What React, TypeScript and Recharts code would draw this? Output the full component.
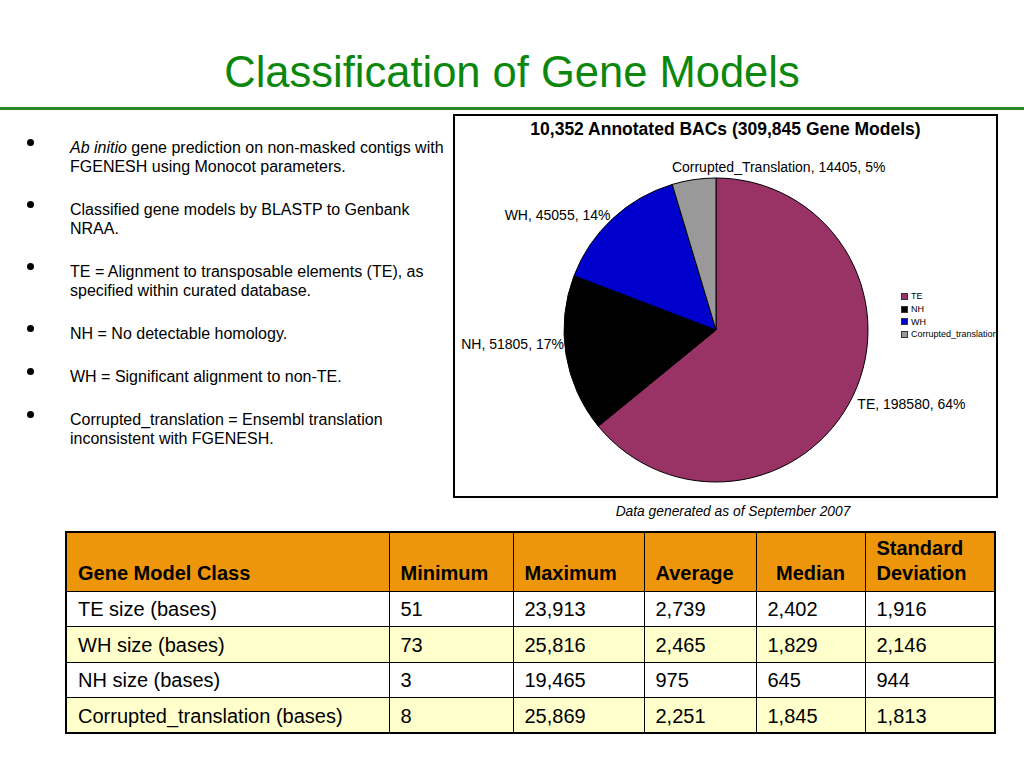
import React from 'react';
import { PieChart, Pie, Cell, Legend } from 'recharts';

// ---------- Pie data ----------
const categories = ['TE', 'NH', 'WH', 'Corrupted_translation'];
const labelNames = ['TE', 'NH', 'WH', 'Corrupted_Translation'];
const geneModelCounts = [198580, 51805, 45055, 14405];
const percentLabels = [64, 17, 14, 5];
const sliceColors = ['#993366', '#000000', '#0000CC', '#999999'];

// ---------- Bullets ----------
const bulletItems: { italic?: string; lines: string[] }[] = [
  { italic: 'Ab initio', lines: [' gene prediction on non-masked contigs with', 'FGENESH using Monocot parameters.'] },
  { lines: ['Classified gene models by BLASTP to Genbank', 'NRAA.'] },
  { lines: ['TE = Alignment to transposable elements (TE), as', 'specified within curated database.'] },
  { lines: ['NH = No detectable homology.'] },
  { lines: ['WH = Significant alignment to non-TE.'] },
  { lines: ['Corrupted_translation = Ensembl translation', 'inconsistent with FGENESH.'] },
];

// ---------- Table data ----------
const tableHeaders = ['Gene Model Class', 'Minimum', 'Maximum', 'Average', 'Median', 'Standard\nDeviation'];
const rowClasses = ['TE size (bases)', 'WH size (bases)', 'NH size (bases)', 'Corrupted_translation (bases)'];
const minimums = ['51', '73', '3', '8'];
const maximums = ['23,913', '25,816', '19,465', '25,869'];
const averages = ['2,739', '2,465', '975', '2,251'];
const medians = ['2,402', '1,829', '645', '1,845'];
const stdDevs = ['1,916', '2,146', '944', '1,813'];

const FONT = '"Liberation Sans", Arial, Helvetica, sans-serif';
const RADIAN = Math.PI / 180;

const pieData = categories.map((name, i) => ({ name, value: geneModelCounts[i], fill: sliceColors[i] }));

const renderPieLabel = (props: any) => {
  const { cx, cy, midAngle, outerRadius, index } = props;
  const cos = Math.cos(-midAngle * RADIAN);
  const sin = Math.sin(-midAngle * RADIAN);
  const px = cx + outerRadius * cos;
  const py = cy + outerRadius * sin;
  let x: number, y: number, anchor: 'start' | 'end';
  if (cos > 0.5) {
    anchor = 'start'; x = px + 4; y = py + 14;
  } else if (cos < -0.5) {
    anchor = 'end'; x = px - 2; y = py - 3.9 - 6.7 * sin;
  } else {
    anchor = 'start'; x = px - 22; y = py - 8;
  }
  return (
    <text x={x} y={y} textAnchor={anchor} fontSize={14} fill="#000" fontFamily={FONT}>
      {`${labelNames[index]}, ${geneModelCounts[index]}, ${percentLabels[index]}%`}
    </text>
  );
};

const renderLegend = (props: any) => {
  const payload = [...(props.payload || [])].sort(
    (a: any, b: any) => categories.indexOf(a.value) - categories.indexOf(b.value)
  );
  return (
    <div style={{ fontFamily: FONT, fontSize: 9, color: '#000' }}>
      {payload.map((entry: any, i: number) => {
        const k = categories.indexOf(entry.value);
        return (
          <div key={i} style={{ height: 12.7, display: 'flex', alignItems: 'center', whiteSpace: 'nowrap' }}>
            <span
              style={{
                display: 'inline-block',
                width: 5,
                height: 5,
                background: k >= 0 ? sliceColors[k] : entry.color,
                border: '0.5px solid #333',
                marginRight: 3,
              }}
            />
            <span>{entry.value}</span>
          </div>
        );
      })}
    </div>
  );
};

export default function App() {
  const colWidths = [323, 124, 131, 112, 109, 130];
  const rows = rowClasses.map((c, i) => [c, minimums[i], maximums[i], averages[i], medians[i], stdDevs[i]]);
  return (
    <div
      style={{
        position: 'absolute',
        left: 0,
        top: 0,
        width: 1024,
        height: 768,
        background: '#fff',
        overflow: 'hidden',
        fontFamily: FONT,
        color: '#000',
      }}
    >
      {/* Title */}
      <div
        style={{
          position: 'absolute',
          left: 0,
          width: 1024,
          top: 51,
          textAlign: 'center',
          fontSize: 43.5,
          lineHeight: 1,
          color: '#0B870B',
          whiteSpace: 'nowrap',
        }}
      >
        Classification of Gene Models
      </div>
      <div style={{ position: 'absolute', left: 0, top: 107, width: 1024, height: 3, background: '#2A8A22' }} />

      {/* Bullets */}
      <div style={{ position: 'absolute', left: 0, top: 138, width: 450 }}>
        {bulletItems.map((b, i) => (
          <div key={i} style={{ position: 'relative', marginBottom: 24 }}>
            <div
              style={{
                position: 'absolute',
                left: 27,
                top: 1,
                width: 7,
                height: 7,
                borderRadius: '50%',
                background: '#000',
              }}
            />
            <div style={{ marginLeft: 70, fontSize: 16, lineHeight: '19px', whiteSpace: 'nowrap' }}>
              {b.lines.map((ln, j) => (
                <div key={j}>
                  {j === 0 && b.italic ? <i>{b.italic}</i> : null}
                  {ln}
                </div>
              ))}
            </div>
          </div>
        ))}
      </div>

      {/* Chart box */}
      <div
        style={{
          position: 'absolute',
          left: 453,
          top: 114,
          width: 545,
          height: 384,
          border: '2px solid #000',
          boxSizing: 'border-box',
        }}
      />
      <div
        style={{
          position: 'absolute',
          left: 453,
          width: 545,
          top: 121,
          textAlign: 'center',
          fontSize: 17.5,
          fontWeight: 'bold',
          lineHeight: 1,
          whiteSpace: 'nowrap',
        }}
      >
        10,352 Annotated BACs (309,845 Gene Models)
      </div>
      <div style={{ position: 'absolute', left: 453, top: 114 }}>
        <PieChart width={545} height={384} margin={{ top: 0, right: 0, bottom: 0, left: 0 }}>
          <Pie
            data={pieData}
            dataKey="value"
            nameKey="name"
            cx={263}
            cy={216}
            outerRadius={152}
            startAngle={90}
            endAngle={-270}
            stroke="#000"
            strokeWidth={1}
            label={renderPieLabel}
            labelLine={false}
            isAnimationActive={false}
          >
            {pieData.map((d, i) => (
              <Cell key={i} fill={sliceColors[i]} />
            ))}
          </Pie>
          <Legend
            layout="vertical"
            align="right"
            verticalAlign="middle"
            itemSorter={null as any}
            content={renderLegend}
            wrapperStyle={{ left: 448, top: 176, right: 'auto', width: 100 }}
          />
        </PieChart>
      </div>

      {/* Footnote */}
      <div
        style={{
          position: 'absolute',
          left: 533,
          width: 400,
          top: 505,
          textAlign: 'center',
          fontSize: 13.8,
          fontStyle: 'italic',
          lineHeight: 1,
          whiteSpace: 'nowrap',
        }}
      >
        Data generated as of September 2007
      </div>

      {/* Table */}
      <table
        style={{
          position: 'absolute',
          left: 65,
          top: 531,
          width: 929,
          borderCollapse: 'collapse',
          tableLayout: 'fixed',
          border: '2px solid #000',
          fontFamily: FONT,
        }}
      >
        <colgroup>
          {colWidths.map((w, i) => (
            <col key={i} style={{ width: w }} />
          ))}
        </colgroup>
        <tbody>
          <tr style={{ height: 59, background: '#EE960B' }}>
            {tableHeaders.map((h, i) => (
              <td
                key={i}
                style={{
                  border: '1px solid #000',
                  padding: '0 0 4px 11px',
                  paddingLeft: i === 4 ? 0 : 11,
                  textAlign: i === 4 ? 'center' : 'left',
                  verticalAlign: 'bottom',
                  fontWeight: 'bold',
                  fontSize: 20,
                  lineHeight: '25.5px',
                  whiteSpace: 'pre',
                }}
              >
                {h}
              </td>
            ))}
          </tr>
          {rows.map((r, ri) => (
            <tr key={ri} style={{ height: 35.5, background: ri % 2 === 1 ? '#FFFFCC' : '#FFFFFF' }}>
              {r.map((c, ci) => (
                <td
                  key={ci}
                  style={{
                    border: '1px solid #000',
                    padding: '2px 0 0 11px',
                    verticalAlign: 'middle',
                    fontSize: 20,
                    lineHeight: '25px',
                    whiteSpace: 'nowrap',
                  }}
                >
                  {c}
                </td>
              ))}
            </tr>
          ))}
        </tbody>
      </table>
    </div>
  );
}
